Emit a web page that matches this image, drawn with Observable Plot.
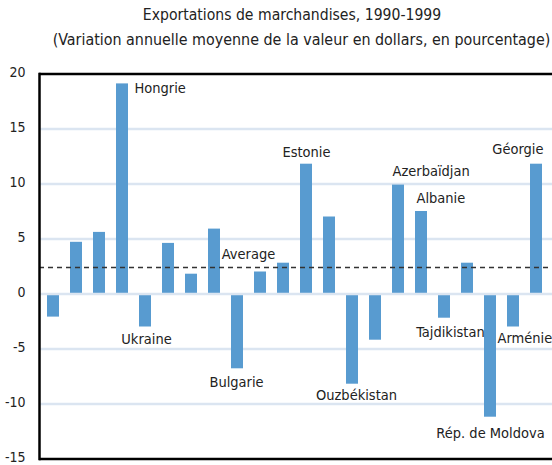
<!DOCTYPE html>
<html>
<head>
<meta charset="utf-8">
<script src="https://cdn.jsdelivr.net/npm/d3@7"></script>
<script src="https://cdn.jsdelivr.net/npm/@observablehq/plot@0.6"></script>
<style>
  html, body { margin: 0; padding: 0; background: #fff; }
  body { width: 552px; height: 465px; overflow: hidden; font-family: "DejaVu Sans Condensed", "Liberation Sans Narrow", sans-serif; color: #222; }
  #head { height: 60px; position: relative; }
  #title, #subtitle { position: absolute; white-space: nowrap; transform: translateX(-50%); }
  #title { left: 292px; top: 6px; font-size: 15.6px; }
  #subtitle { left: 301.5px; top: 30px; font-size: 15.9px; }
</style>
</head>
<body>
<div id="head">
  <div id="title">Exportations de marchandises, 1990-1999</div>
  <div id="subtitle">(Variation annuelle moyenne de la valeur en dollars, en pourcentage)</div>
</div>
<div id="chart"></div>
<script>
const countries = [
  "Croatie", "Slovaquie", "Pologne", "Hongrie", "Ukraine", "Slovénie", "Roumanie",
  "Rép. tchèque", "Bulgarie", "Bélarus", "Lituanie", "Estonie", "Lettonie",
  "Ouzbékistan", "Turkménistan", "Azerbaïdjan", "Albanie", "Tajdikistan",
  "Kirghizistan", "Rép. de Moldova", "Arménie", "Géorgie"
];
const values = [
  -2.1, 4.7, 5.6, 19.1, -3.0, 4.6, 1.8,
  5.9, -6.8, 2.0, 2.8, 11.8, 7.0,
  -8.2, -4.2, 9.9, 7.5, -2.2,
  2.8, -11.2, -3.0, 11.8
];
const average = 2.4;
const averageLabel = "Average";
const labeled = ["Hongrie", "Ukraine", "Bulgarie", "Estonie", "Ouzbékistan", "Azerbaïdjan",
  "Albanie", "Tajdikistan", "Rép. de Moldova", "Arménie", "Géorgie"];
const yTicks = [-15, -10, -5, 0, 5, 10, 15, 20];
const gridValues = [-10, -5, 5, 10, 15];

const data = countries.map((c, i) => ({country: c, value: values[i]}));

// label placement styles (code, not data)
const labelStyle = {
  "Hongrie":        {anchor: "start",  dx: 12,  dy: 4},
  "Ukraine":        {anchor: "middle", dx: 1,   dy: 12},
  "Bulgarie":       {anchor: "middle", dx: -1,  dy: 14},
  "Estonie":        {anchor: "middle", dx: 0,   dy: -12},
  "Ouzbékistan":    {anchor: "middle", dx: 4,   dy: 11},
  "Azerbaïdjan":    {anchor: "start",  dx: -6,  dy: -14},
  "Albanie":        {anchor: "start",  dx: -5,  dy: -13},
  "Tajdikistan":    {anchor: "middle", dx: 6,   dy: 14},
  "Rép. de Moldova":{anchor: "middle", dx: 0,   dy: 16},
  "Arménie":        {anchor: "start",  dx: -16, dy: 11},
  "Géorgie":        {anchor: "end",    dx: 7,   dy: -15}
};

const fontFamily = '"DejaVu Sans Condensed", "Liberation Sans Narrow", sans-serif';
const labelSize = 14.5;

const labelMarks = labeled.map(name => {
  const s = labelStyle[name];
  return Plot.text(data.filter(d => d.country === name), {
    x: "country", y: "value", text: "country",
    textAnchor: s.anchor, dx: s.dx, dy: s.dy,
    fontSize: labelSize, fill: "#222"
  });
});

const chart = Plot.plot({
  width: 552,
  height: 405,
  marginTop: 13.5,
  marginBottom: 6.5,
  marginLeft: 39,
  marginRight: 0,
  style: {fontFamily, fontSize: "14px", color: "#222", background: "#fff"},
  x: {type: "band", domain: countries, range: [36.3, 552.2], paddingInner: 0.48, paddingOuter: 0.24, axis: null},
  y: {domain: [-15, 20], axis: null},
  marks: [
    Plot.ruleY(gridValues, {stroke: "#dbe5f1", strokeWidth: 2.5}),
    Plot.barY(data, {x: "country", y: "value", fill: "#589bd0"}),
    Plot.ruleY([0], {stroke: "#dbe5f1", strokeWidth: 2.5}),
    Plot.ruleY([average], {stroke: "#333", strokeWidth: 1.5, strokeDasharray: "5,4"}),
    Plot.text([average], {x: () => countries[9], y: d => d, text: () => averageLabel, dx: -12, dy: -13, fontSize: labelSize, fill: "#222"}),
    ...labelMarks,
    Plot.ruleY([20, -15], {stroke: "#000", strokeWidth: 2.5}),
    Plot.frame({anchor: "left", stroke: "#000", strokeWidth: 2.5}),
    Plot.axisY({ticks: yTicks, tickSize: 0, tickPadding: 14, label: null, tickFormat: d => String(d), fontSize: 14, dy: -1})
  ]
});
document.getElementById("chart").appendChild(chart);
</script>
</body>
</html>
